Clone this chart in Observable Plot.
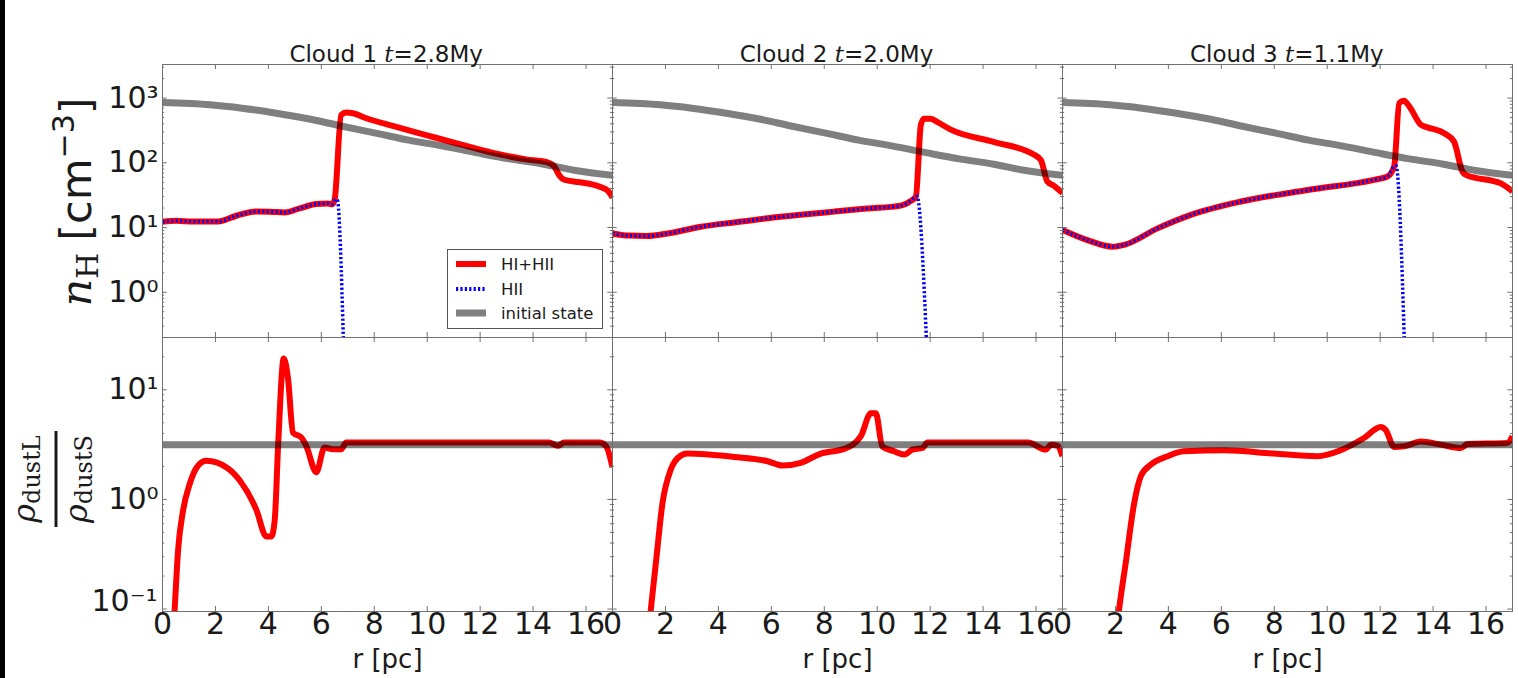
<!DOCTYPE html>
<html>
<head>
<meta charset="utf-8">
<script src="https://cdn.jsdelivr.net/npm/d3@7"></script>
<script src="https://cdn.jsdelivr.net/npm/@observablehq/plot@0.6"></script>
<style>
html, body { margin: 0; padding: 0; background: #fff; }
#wrap { position: relative; width: 1518px; height: 678px; background: #fff; overflow: hidden; }
#edge { position: absolute; left: 0; top: 0; width: 5px; height: 678px; background: #000; z-index: 5; }
#top, #bot { position: absolute; left: 0; }
#top { top: 0; }
#bot { top: 336px; }
#overlay { position: absolute; left: 0; top: 0; pointer-events: none; z-index: 4; }
</style>
</head>
<body>
<div id="wrap">
  <div id="edge"></div>
  <div id="top"></div>
  <div id="bot"></div>
  <svg id="overlay" width="1518" height="678" xmlns="http://www.w3.org/2000/svg"></svg>
</div>
<script>
// ---------------- data ----------------
const clouds = ["Cloud 1", "Cloud 2", "Cloud 3"];
const times = ["2.8", "2.0", "1.1"];
const xTicks = [0, 2, 4, 6, 8, 10, 12, 14, 16];
const nTicks = [1, 10, 100, 1000];
const nTickLabels = ["10\u2070", "10\u00b9", "10\u00b2", "10\u00b3"];
const ratioTicks = [0.1, 1, 10];
const ratioTickLabels = ["10\u207b\u00b9", "10\u2070", "10\u00b9"];
const legendLabels = ["HI+HII", "HII", "initial state"];
const xLabel = "r [pc]";

// initial state (same for every cloud)
const initR = [0, 1.8, 3.0, 4.3, 5.6, 6.7, 8.1, 9.3, 10.6, 11.9, 13.1, 14.4, 15.6, 17];
const initN = [853, 787, 698, 584, 471, 374, 285, 224, 181, 142, 115, 95, 76, 64];
const initRatioR = [0, 17];
const initRatioV = [3.15, 3.15];

// Cloud 1, n_H (HI+HII)
const c1R = [0, 0.53, 1.16, 2.1, 2.79, 3.55, 4.05, 4.62, 5.18, 5.81, 6.25, 6.4, 6.5, 6.75, 6.94, 7.19, 7.7, 8.7, 9.96, 11.22, 12.48, 13.74, 14.49, 14.8, 14.99, 15.18, 15.75, 16.5, 16.82, 17];
const c1N = [12.3, 12.7, 12.4, 12.4, 15.2, 17.7, 17.6, 17.1, 19.8, 23.1, 23.6, 22.8, 26.5, 550, 597, 584, 488, 371, 268, 194, 142, 113, 103, 88, 64, 54.7, 50.2, 43, 37, 29];
// Cloud 1, n_H (HII)
const c1HR = [0, 0.53, 1.16, 2.1, 2.79, 3.55, 4.05, 4.62, 5.18, 5.81, 6.25, 6.4, 6.5, 6.6, 6.84];
const c1HN = [12.3, 12.7, 12.4, 12.4, 15.2, 17.7, 17.6, 17.1, 19.8, 23.1, 23.6, 22.8, 26.5, 27, 0.15];

// Cloud 2
const c2R = [0, 0.6, 1.32, 2.08, 3.34, 4.6, 5.86, 7.1, 8.37, 9.6, 10.89, 11.27, 11.46, 11.65, 11.77, 12.02, 12.3, 12.78, 14.4, 15.93, 16.18, 16.43, 16.68, 17];
const c2N = [8.1, 7.5, 7.4, 8.1, 10.3, 12.0, 13.9, 15.7, 17.6, 19.6, 21.8, 25.8, 30, 387, 480, 480, 420, 325, 210, 133, 111, 51, 44, 34];
const c2HR = [0, 0.6, 1.32, 2.08, 3.34, 4.6, 5.86, 7.1, 8.37, 9.6, 10.89, 11.27, 11.46, 11.5, 11.87];
const c2HN = [8.1, 7.5, 7.4, 8.1, 10.3, 12.0, 13.9, 15.7, 17.6, 19.6, 21.8, 25.8, 30, 30.5, 0.15];

// Cloud 3
const c3R = [0, 0.94, 1.89, 2.33, 3.59, 4.85, 6.74, 9.26, 11.77, 12.28, 12.53, 12.72, 12.9, 13.1, 13.54, 13.79, 14.42, 14.79, 15.11, 15.24, 16.56, 17];
const c3N = [9.2, 6.4, 5.06, 5.4, 9.7, 15.7, 25.2, 38, 54.6, 61.5, 88, 837, 910, 744, 387, 352, 287, 213, 73, 65, 48, 36];
const c3HR = [0, 0.94, 1.89, 2.33, 3.59, 4.85, 6.74, 9.26, 11.77, 12.28, 12.53, 12.6, 12.92];
const c3HN = [9.2, 6.4, 5.06, 5.4, 9.7, 15.7, 25.2, 38, 54.6, 61.5, 88, 90, 0.15];

// dust ratio rho_dustL / rho_dustS
const b1R = [0.43, 0.46, 0.59, 0.78, 1.03, 1.34, 1.66, 2.42, 2.92, 3.55, 3.92, 4.11, 4.24, 4.37, 4.58, 4.74, 4.93, 5.25, 5.43, 5.81, 6.12, 6.44, 6.75, 6.94, 14.6, 14.93, 15.18, 16.5, 16.75, 17];
const b1V = [0.075, 0.1, 0.348, 0.80, 1.39, 2.03, 2.25, 1.96, 1.49, 0.80, 0.46, 0.46, 0.65, 3.19, 19.3, 12.8, 4.07, 3.66, 3.08, 1.77, 2.98, 2.87, 2.87, 3.3, 3.3, 3.08, 3.3, 3.3, 3.08, 1.96];
const b2R = [1.42, 1.45, 1.64, 1.89, 2.2, 2.58, 2.83, 4.59, 5.86, 6.42, 7.11, 7.87, 8.75, 9.38, 9.76, 9.95, 10.19, 10.64, 11.02, 11.33, 11.71, 11.9, 15.7, 16.37, 16.56, 16.8, 17];
const b2V = [0.085, 0.1, 0.265, 0.93, 1.87, 2.51, 2.62, 2.44, 2.23, 2.04, 2.16, 2.62, 2.89, 3.77, 6.1, 6.1, 3.05, 2.75, 2.57, 2.85, 2.95, 3.3, 3.3, 2.85, 3.15, 3.1, 2.48];
const b3R = [2.11, 2.14, 2.39, 2.71, 2.96, 3.34, 3.97, 4.59, 6.1, 7.99, 9.63, 10.51, 11.39, 12.02, 12.21, 12.53, 12.9, 13.54, 14.29, 15.05, 15.3, 16.8, 17];
const b3V = [0.087, 0.1, 0.265, 0.93, 1.63, 2.08, 2.48, 2.75, 2.81, 2.62, 2.48, 2.81, 3.63, 4.57, 4.3, 3.01, 3.05, 3.38, 3.16, 2.95, 3.2, 3.27, 3.77];

// ---------------- tables ----------------
const rows = (cloud, rs, vs) => rs.map((r, i) => ({cloud, r, v: vs[i]}));
const totalTop = [...rows(clouds[0], c1R, c1N), ...rows(clouds[1], c2R, c2N), ...rows(clouds[2], c3R, c3N)];
const hiiTop = [...rows(clouds[0], c1HR, c1HN), ...rows(clouds[1], c2HR, c2HN), ...rows(clouds[2], c3HR, c3HN)];
const ratioBot = [...rows(clouds[0], b1R, b1V), ...rows(clouds[1], b2R, b2V), ...rows(clouds[2], b3R, b3V)];
const initTop = initR.map((r, i) => ({r, v: initN[i]}));
const initBot = initRatioR.map((r, i) => ({r, v: initRatioV[i]}));

function minorTicks(lo, hi) {
  const out = [];
  for (let e = -2; e <= 4; e++) for (let m = 2; m <= 9; m++) {
    const v = m * Math.pow(10, e);
    if (v > lo && v < hi) out.push(v);
  }
  return out;
}

// ---------------- layout ----------------
const WIDTH = 1518, ML = 161, MR = 6;
const PW = (WIDTH - ML - MR) / 3;
const TOP_MT = 64, TOP_H = 338, TOP_MB = 1;
const BOT_MT = 1, BOT_H = 342, BOT_MB = 67;
const HT = TOP_H - TOP_MT - TOP_MB;
const HB = BOT_H - BOT_MT - BOT_MB;
const frameColor = "#707070";
const RED = "#ff0000", BLUE = "#0000ff";

function tickRules(yMajor, yMinor, H) {
  const s = {stroke: frameColor, strokeWidth: 1};
  return [
    Plot.ruleX(xTicks, {x: d => d, insetBottom: H - 5, ...s}),
    Plot.ruleX(xTicks, {x: d => d, insetTop: H - 5, ...s}),
    Plot.ruleY(yMajor, {y: d => d, insetRight: PW - 5, ...s}),
    Plot.ruleY(yMajor, {y: d => d, insetLeft: PW - 5, ...s}),
    Plot.ruleY(yMinor, {y: d => d, insetRight: PW - 2.5, ...s}),
    Plot.ruleY(yMinor, {y: d => d, insetLeft: PW - 2.5, ...s})
  ];
}

const topDomain = [0.2, 3300];
const botDomain = [0.095, 30];
const redStyle = {stroke: RED, strokeWidth: 6, strokeLinejoin: "round", strokeLinecap: "butt", curve: "monotone-x", clip: true};
const ratioLabel = d => ratioTickLabels[ratioTicks.indexOf(d)];

const topPlot = Plot.plot({
  width: WIDTH, height: TOP_H,
  marginLeft: ML, marginRight: MR, marginTop: TOP_MT, marginBottom: TOP_MB,
  style: {fontFamily: "DejaVu Sans", fontSize: "30px", color: "#1a1a1a", overflow: "visible"},
  fx: {domain: clouds, padding: 0, axis: null, label: null},
  x: {domain: [0, 17], axis: null},
  y: {type: "log", domain: topDomain, axis: null},
  marks: [
    Plot.line(totalTop, {x: "r", y: "v", fx: "cloud", z: "cloud", ...redStyle}),
    Plot.line(hiiTop, {x: "r", y: "v", fx: "cloud", z: "cloud", stroke: BLUE, strokeWidth: 3.5, strokeDasharray: "2.2,2.2", strokeLinecap: "butt", curve: "monotone-x", clip: true}),
    Plot.line(initTop, {x: "r", y: "v", stroke: "#000", strokeOpacity: 0.5, strokeWidth: 7, strokeLinecap: "butt", curve: "monotone-x", clip: true}),
    ...tickRules(nTicks, minorTicks(topDomain[0], topDomain[1]), HT),
    Plot.frame({stroke: frameColor, strokeWidth: 1}),
    Plot.axisY(nTicks, {tickFormat: d => nTickLabels[nTicks.indexOf(d)], tickSize: 0, tickPadding: 4, fontSize: 30, label: null, facetAnchor: "left"})
  ]
});
document.getElementById("top").appendChild(topPlot);

const botPlot = Plot.plot({
  width: WIDTH, height: BOT_H,
  marginLeft: ML, marginRight: MR, marginTop: BOT_MT, marginBottom: BOT_MB,
  style: {fontFamily: "DejaVu Sans", fontSize: "30px", color: "#1a1a1a", overflow: "visible"},
  fx: {domain: clouds, padding: 0, axis: null, label: null},
  x: {domain: [0, 17], axis: null},
  y: {type: "log", domain: botDomain, axis: null},
  marks: [
    Plot.line(ratioBot, {x: "r", y: "v", fx: "cloud", z: "cloud", ...redStyle}),
    Plot.line(initBot, {x: "r", y: "v", stroke: "#000", strokeOpacity: 0.5, strokeWidth: 7, strokeLinecap: "butt", clip: true}),
    ...tickRules(ratioTicks, minorTicks(botDomain[0], botDomain[1]), HB),
    Plot.frame({stroke: frameColor, strokeWidth: 1}),
    Plot.axisY(ratioTicks.slice(1), {tickFormat: ratioLabel, tickSize: 0, tickPadding: 4, fontSize: 30, label: null, facetAnchor: "left"}),
    Plot.axisY(ratioTicks.slice(0, 1), {tickFormat: ratioLabel, tickSize: 0, tickPadding: 5, dy: -8, fontSize: 30, label: null, facetAnchor: "left"}),
    Plot.axisX(xTicks, {tickSize: 0, tickPadding: 1, fontSize: 30, label: null, facetAnchor: "bottom"}),
    Plot.text([xLabel], {frameAnchor: "bottom", dy: 56, fontSize: 26})
  ]
});
document.getElementById("bot").appendChild(botPlot);

// ---------------- overlay text: titles, y labels, legend ----------------
const NS = "http://www.w3.org/2000/svg";
const ov = document.getElementById("overlay");
function el(tag, attrs, parent) {
  const e = document.createElementNS(NS, tag);
  for (const k in attrs) e.setAttribute(k, attrs[k]);
  (parent || ov).appendChild(e);
  return e;
}
function tspan(parent, text, attrs) {
  const t = el("tspan", attrs || {}, parent);
  t.textContent = text;
  return t;
}

// panel titles
clouds.forEach((c, i) => {
  const cx = ML + PW * (i + 0.5);
  const t = el("text", {x: cx, y: 62, "text-anchor": "middle", "font-family": "DejaVu Sans", "font-size": 23, fill: "#1a1a1a"});
  tspan(t, c + " ");
  tspan(t, "t", {"font-family": "DejaVu Serif", "font-style": "italic"});
  tspan(t, "=" + times[i] + "My");
});

// top y label: n_H [cm^-3]
{
  const t = el("text", {transform: "translate(91,202) rotate(-90)", "text-anchor": "middle", "font-family": "DejaVu Sans", "font-size": 43, fill: "#1a1a1a"});
  tspan(t, "n", {"font-family": "DejaVu Serif", "font-style": "italic"});
  tspan(t, "H", {"font-family": "DejaVu Serif", "font-size": 30, dy: 7});
  tspan(t, "[cm", {dy: -7, dx: 12});
  tspan(t, "\u22123", {"font-size": 30, dy: -17});
  tspan(t, "]", {dy: 17});
}

// bottom y label: rho_dustL / rho_dustS
{
  const g = el("g", {transform: "translate(56,479) rotate(-90)"});
  const num = el("text", {x: 0, y: -21, "text-anchor": "middle", "font-family": "DejaVu Serif", "font-size": 32, fill: "#1a1a1a"}, g);
  tspan(num, "\u03c1", {"font-style": "italic"});
  tspan(num, "dustL", {"font-size": 24, dy: 5});
  el("line", {x1: -48, x2: 48, y1: 0, y2: 0, stroke: "#1a1a1a", "stroke-width": 3}, g);
  const den = el("text", {x: 0, y: 31, "text-anchor": "middle", "font-family": "DejaVu Serif", "font-size": 32, fill: "#1a1a1a"}, g);
  tspan(den, "\u03c1", {"font-style": "italic"});
  tspan(den, "dustS", {"font-size": 24, dy: 5});
}

// legend (in panel Cloud 1, top row)
{
  const g = el("g", {});
  el("rect", {x: 447.5, y: 249.5, width: 155, height: 79, fill: "#fff", stroke: "#555", "stroke-width": 1}, g);
  const ys = [264, 289, 313];
  const styles = [
    {stroke: RED, "stroke-width": 6},
    {stroke: BLUE, "stroke-width": 4, "stroke-dasharray": "2.2,2.2"},
    {stroke: "#000", "stroke-opacity": 0.5, "stroke-width": 7}
  ];
  legendLabels.forEach((lab, i) => {
    el("line", {x1: 456, x2: 486, y1: ys[i], y2: ys[i], ...styles[i]}, g);
    const t = el("text", {x: 501, y: ys[i] + 6, "font-family": "DejaVu Sans", "font-size": 16.5, fill: "#1a1a1a"}, g);
    t.textContent = lab;
  });
}
</script>
</body>
</html>
